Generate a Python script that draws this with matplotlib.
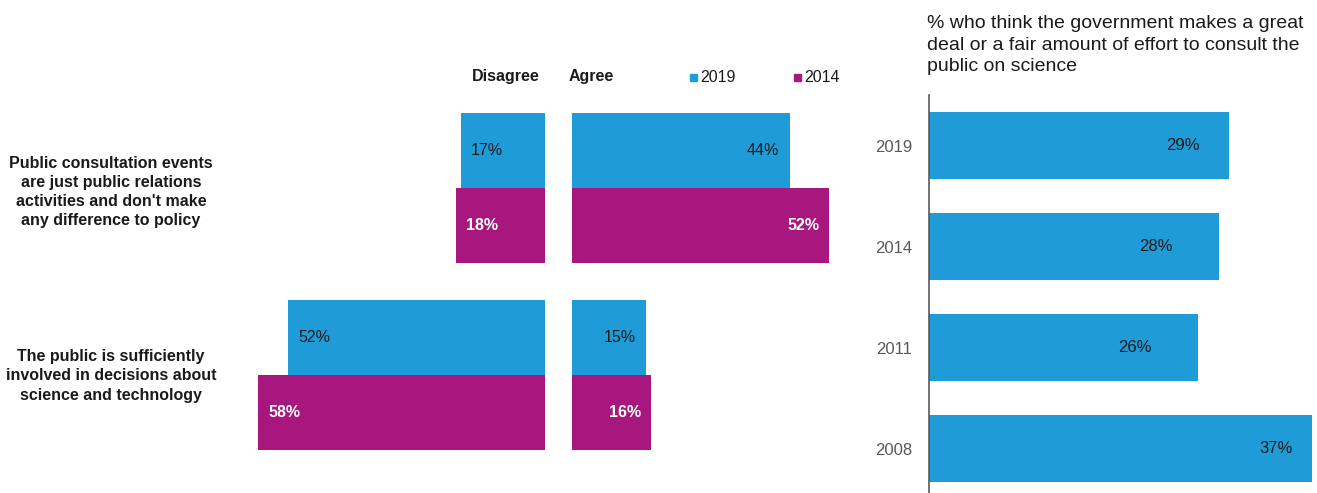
import matplotlib.pyplot as plt
import numpy as np

plt.rcParams["font.family"] = ["Liberation Sans", "DejaVu Sans"]

# --- data ---
statements = [
    "Public consultation events\nare just public relations\nactivities and don't make\nany difference to policy",
    "The public is sufficiently\ninvolved in decisions about\nscience and technology",
]
disagree_2019 = [17, 52]
disagree_2014 = [18, 58]
agree_2019 = [44, 15]
agree_2014 = [52, 16]

years = ["2019", "2014", "2011", "2008"]
consult = [29, 28, 26, 37]

BLUE = "#1F9CD8"
MAGENTA = "#A8177E"
DARK = "#1a1a1a"

W, H = 1317, 493
fig = plt.figure(figsize=(W / 100, H / 100), dpi=100)


def px_axes(x0, y0, x1, y1):
    # pixel box (top-left origin) -> figure axes
    return fig.add_axes([x0 / W, 1 - y1 / H, (x1 - x0) / W, (y1 - y0) / H])


PPU = 4.95  # pixels per percent, left panel
BAR_H = 75 / 187

# disagree / agree panels
ax_d = px_axes(545 - 60 * PPU, 100, 545, 470)
ax_a = px_axes(572, 100, 572 + 55 * PPU, 470)
ax_d.set_xlim(-60, 0)
ax_a.set_xlim(0, 55)
for ax in (ax_d, ax_a):
    ax.set_ylim(1.508, -0.4706)
    ax.axis("off")

y = np.arange(len(statements))
ax_d.barh(y - BAR_H / 2, [-v for v in disagree_2019], height=BAR_H, color=BLUE)
ax_d.barh(y + BAR_H / 2, [-v for v in disagree_2014], height=BAR_H, color=MAGENTA)
ax_a.barh(y - BAR_H / 2, agree_2019, height=BAR_H, color=BLUE)
ax_a.barh(y + BAR_H / 2, agree_2014, height=BAR_H, color=MAGENTA)

FS = 11.5
for i in range(len(statements)):
    ax_d.text(-disagree_2019[i] + 2.1, y[i] - BAR_H / 2, f"{disagree_2019[i]}%",
              ha="left", va="center", fontsize=FS, color=DARK)
    ax_d.text(-disagree_2014[i] + 2.1, y[i] + BAR_H / 2, f"{disagree_2014[i]}%",
              ha="left", va="center", fontsize=FS, color="white", fontweight="bold")
    ax_a.text(agree_2019[i] - 2.1, y[i] - BAR_H / 2, f"{agree_2019[i]}%",
              ha="right", va="center", fontsize=FS, color=DARK)
    ax_a.text(agree_2014[i] - 2.1, y[i] + BAR_H / 2, f"{agree_2014[i]}%",
              ha="right", va="center", fontsize=FS, color="white", fontweight="bold")

# statement labels
for i, s in enumerate(statements):
    fig.text(111 / W, 1 - (192 if i == 0 else 376) / H, s, ha="center", va="center",
             fontsize=FS, fontweight="bold", color=DARK, linespacing=1.35)

# headers and legend
fig.text(506 / W, 1 - 77 / H, "Disagree", ha="center", va="center",
         fontsize=FS, fontweight="bold", color=DARK)
fig.text(569 / W, 1 - 77 / H, "Agree", ha="left", va="center",
         fontsize=FS, fontweight="bold", color=DARK)
for xs, lab, col in [(690, "2019", BLUE), (794, "2014", MAGENTA)]:
    fig.patches.append(plt.Rectangle((xs / W, 1 - 81 / H), 7 / W, 7 / H,
                                     transform=fig.transFigure, color=col))
    fig.text((xs + 10) / W, 1 - 77 / H, lab, ha="left", va="center",
             fontsize=FS, color=DARK)

# right panel
ax_r = px_axes(929, 95, W, 493)
ax_r.set_xlim(0, 388 / 10.34)
ax_r.set_ylim(3.44, -0.5)
yr = np.arange(len(years))
ax_r.barh(yr, consult, height=0.663, color=BLUE)
label_pos = [24.6, 21.9, 19.9, 33.6]
for i, v in enumerate(consult):
    ax_r.text(label_pos[i], yr[i], f"{v}%", ha="center", va="center",
              fontsize=12, color=DARK)
ax_r.set_yticks(yr)
ax_r.set_yticklabels(years, fontsize=12, color="#595959")
ax_r.tick_params(axis="y", length=0, pad=12)
ax_r.set_xticks([])
for side in ["top", "right", "bottom"]:
    ax_r.spines[side].set_visible(False)
ax_r.spines["left"].set_color("#595959")
ax_r.spines["left"].set_linewidth(1.2)

fig.text(927 / W, 1 - 45 / H,
         "% who think the government makes a great\ndeal or a fair amount of effort to consult the\npublic on science",
         ha="left", va="center", fontsize=14, color=DARK, linespacing=1.38)

fig.savefig("out.png", dpi=100, facecolor="white")
